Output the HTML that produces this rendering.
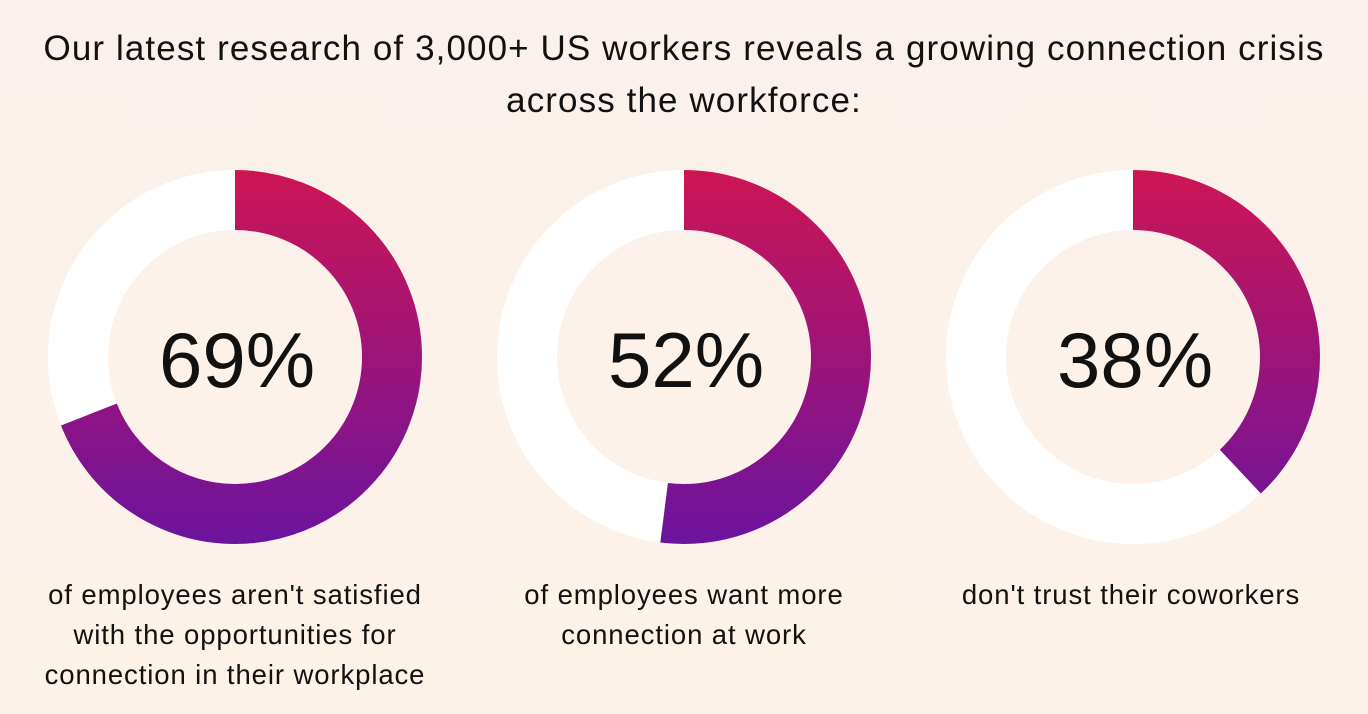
<!DOCTYPE html>
<html><head><meta charset="utf-8"><style>
body{margin:0;width:1368px;height:714px;overflow:hidden;background:linear-gradient(#fbf1ec,#fcf2e8);font-family:"Liberation Sans",sans-serif;color:#111;position:relative}
.t{position:absolute;left:0;width:1368px;top:23px;text-align:center;font-size:35px;letter-spacing:1.1px;line-height:52px}
.c{position:absolute;top:575px;width:460px;text-align:center;font-size:27.5px;letter-spacing:0.9px;line-height:40px}
</style></head><body>
<div class="t">Our latest research of 3,000+ US workers reveals a growing connection crisis<br>across the workforce:</div>
<svg width="1368" height="714" style="position:absolute;left:0;top:0">
<defs>
<linearGradient id="g1" gradientUnits="userSpaceOnUse" x1="422" y1="0" x2="48" y2="0"><stop offset="0" stop-color="#cd1554"/><stop offset="1" stop-color="#6b149e"/></linearGradient>
<linearGradient id="g2" gradientUnits="userSpaceOnUse" x1="871" y1="0" x2="497" y2="0"><stop offset="0" stop-color="#cd1554"/><stop offset="1" stop-color="#6b149e"/></linearGradient>
<linearGradient id="g3" gradientUnits="userSpaceOnUse" x1="1320" y1="0" x2="946" y2="0"><stop offset="0" stop-color="#cd1554"/><stop offset="1" stop-color="#6b149e"/></linearGradient>
</defs>
<g fill="none" stroke-width="60">
<circle cx="235" cy="357" r="157" stroke="#fff"/>
<circle cx="235" cy="357" r="157" stroke="url(#g1)" stroke-dasharray="680.7 2000" transform="rotate(-90 235 357)"/>
<circle cx="684" cy="357" r="157" stroke="#fff"/>
<circle cx="684" cy="357" r="157" stroke="url(#g2)" stroke-dasharray="513 2000" transform="rotate(-90 684 357)"/>
<circle cx="1133" cy="357" r="157" stroke="#fff"/>
<circle cx="1133" cy="357" r="157" stroke="url(#g3)" stroke-dasharray="374.9 2000" transform="rotate(-90 1133 357)"/>
</g>
<g font-family="Liberation Sans, sans-serif" font-size="78" text-anchor="middle" fill="#111">
<text x="237" y="387">69%</text><text x="686" y="387">52%</text><text x="1135" y="387">38%</text>
</g>
</svg>
<div class="c" style="left:5px">of employees aren't satisfied<br>with the opportunities for<br>connection in their workplace</div>
<div class="c" style="left:454px">of employees want more<br>connection at work</div>
<div class="c" style="left:901px">don't trust their coworkers</div>
</body></html>
